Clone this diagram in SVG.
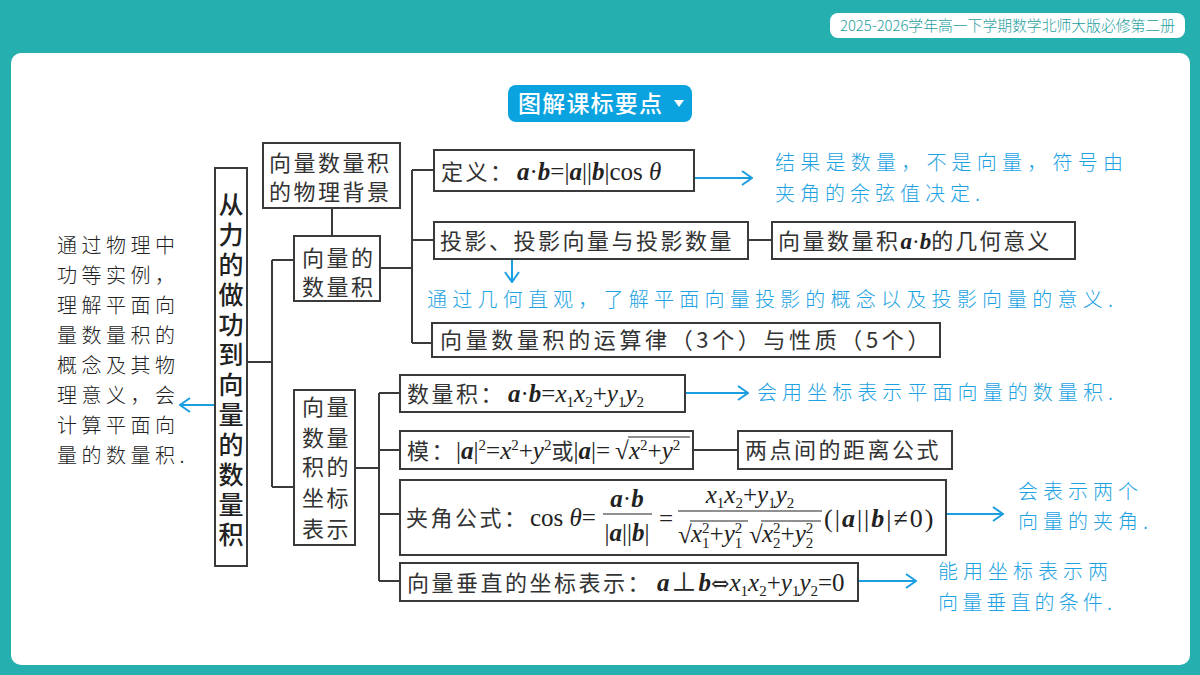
<svg xmlns="http://www.w3.org/2000/svg" width="1200" height="675" viewBox="0 0 1200 675">
<defs>
<style>
.box{fill:#fff;stroke:#3a3a3a;stroke-width:2}
.ln{fill:none;stroke:#3a3a3a;stroke-width:2}
.bl{fill:none;stroke:#1a9ee0;stroke-width:2}
.cn{font-family:"Noto Sans CJK SC","Noto Sans",sans-serif;font-size:22px;fill:#333;letter-spacing:2.5px}
.m{font-family:"Liberation Serif","Noto Sans CJK SC",serif;font-size:25px;fill:#222;letter-spacing:0}
.bi{font-weight:bold;font-style:italic}
.it{font-style:italic}
.s{font-size:15px}
.hw{font-family:"Noto Sans CJK SC",sans-serif;font-size:20px;fill:#1ca2e2;font-weight:300}
.hk{font-family:"Noto Sans CJK SC",sans-serif;font-size:20px;fill:#222;letter-spacing:4.5px;font-weight:300}
.rad{stroke:#222;stroke-width:1.2}
</style>
<marker id="ah" viewBox="0 0 12 16" markerWidth="12" markerHeight="16" refX="11" refY="8" orient="auto" markerUnits="userSpaceOnUse">
<path d="M1,1 L11,8 L1,15" fill="none" stroke="#1a9ee0" stroke-width="2"/>
</marker>
</defs>

<!-- frame -->
<rect x="0" y="0" width="1200" height="675" fill="#25afae"/>
<rect x="11" y="53" width="1179" height="612" rx="10" fill="#fff"/>
<rect x="830" y="13" width="355" height="25" rx="8" fill="#fff"/>
<text x="840" y="31" font-family="Noto Sans CJK SC,sans-serif" font-size="14.5" font-weight="300" fill="#1e9e9e" textLength="335" lengthAdjust="spacingAndGlyphs">2025-2026学年高一下学期数学北师大版必修第二册</text>

<g id="title">
<rect x="508" y="85" width="184" height="37" rx="8" fill="#0aa3e0"/>
<text x="518" y="112" font-family="Noto Sans CJK SC,sans-serif" font-size="23" font-weight="500" fill="#fff" letter-spacing="1.2">图解课标要点</text>
<polygon points="674,100 684,100 679,107" fill="#fff"/>
</g>

<!-- connectors -->
<g id="connectors">
<path class="ln" d="M247,362 H272 M272,260 V487 M272,260 H294 M272,487 H294"/>
<path class="ln" d="M332,208 V236"/>
<path class="ln" d="M380,268 H412 M412,170 V343 M412,170 H434 M412,240 H434 M412,343 H432"/>
<path class="ln" d="M748,240 H772"/>
<path class="ln" d="M355,468 H379 M379,393 V581 M379,393 H400 M379,450 H400 M379,514 H400 M379,581 H400"/>
<path class="ln" d="M693,450 H738"/>
<line class="bl" x1="214" y1="405" x2="180" y2="405" marker-end="url(#ah)"/>
<line class="bl" x1="694" y1="178" x2="752" y2="178" marker-end="url(#ah)"/>
<line class="bl" x1="512" y1="259" x2="512" y2="282" marker-end="url(#ah)"/>
<line class="bl" x1="685" y1="393" x2="748" y2="393" marker-end="url(#ah)"/>
<line class="bl" x1="946" y1="514" x2="1003" y2="514" marker-end="url(#ah)"/>
<line class="bl" x1="858" y1="581" x2="916" y2="581" marker-end="url(#ah)"/>
</g>

<g id="root">
<rect class="box" x="215" y="168" width="32" height="398"/>
<text x="231" y="192" writing-mode="vertical-rl" font-family="Noto Sans CJK SC,sans-serif" font-size="25" font-weight="500" fill="#222" letter-spacing="5">从力的做功到向量的数量积</text>
</g>

<g id="goal-left">
<text class="hk"><tspan x="57" y="253">通过物理中</tspan><tspan x="57" dy="30">功等实例，</tspan><tspan x="57" dy="30">理解平面向</tspan><tspan x="57" dy="30">量数量积的</tspan><tspan x="57" dy="30">概念及其物</tspan><tspan x="57" dy="30">理意义，会</tspan><tspan x="57" dy="30">计算平面向</tspan><tspan x="57" dy="30">量的数量积.</tspan></text>
</g>

<g id="physics">
<rect class="box" x="263" y="143" width="137" height="65"/>
<text class="cn"><tspan x="269" y="171">向量数量积</tspan><tspan x="269" y="200">的物理背景</tspan></text>
</g>

<g id="dot-product">
<rect class="box" x="294" y="236" width="86" height="65"/>
<text class="cn"><tspan x="302" y="266">向量的</tspan><tspan x="302" y="295">数量积</tspan></text>
</g>

<g id="definition">
<rect class="box" x="434" y="150" width="260" height="41"/>
<text x="441" y="180"><tspan class="cn">定义：</tspan><tspan class="m bi" x="517">a</tspan><tspan class="m">·</tspan><tspan class="m bi">b</tspan><tspan class="m">=|</tspan><tspan class="m bi">a</tspan><tspan class="m">||</tspan><tspan class="m bi">b</tspan><tspan class="m">|cos </tspan><tspan class="m it">θ</tspan></text>
</g>
<text id="note-def" class="hw"><tspan x="775" y="170" textLength="348">结果是数量，不是向量，符号由</tspan><tspan x="775" y="201" textLength="205">夹角的余弦值决定.</tspan></text>

<g id="projection">
<rect class="box" x="434" y="222" width="314" height="37"/>
<text class="cn" x="440" y="249">投影、投影向量与投影数量</text>
</g>
<g id="geometric">
<rect class="box" x="772" y="222" width="303" height="37"/>
<text x="778" y="249"><tspan class="cn">向量数量积</tspan><tspan class="m bi" style="font-size:23px">a</tspan><tspan class="m" style="font-size:23px">·</tspan><tspan class="m bi" style="font-size:23px">b</tspan><tspan class="cn" style="letter-spacing:2px">的几何意义</tspan></text>
</g>
<text id="note-proj" class="hw" x="427" y="307" textLength="686">通过几何直观，了解平面向量投影的概念以及投影向量的意义.</text>

<g id="laws">
<rect class="box" x="432" y="323" width="508" height="34"/>
<text class="cn" x="440" y="348" textLength="492">向量数量积的运算律（3个）与性质（5个）</text>
</g>

<g id="coord">
<rect class="box" x="294" y="390" width="61" height="155"/>
<text class="cn"><tspan x="302" y="415">向量</tspan><tspan x="302" y="446">数量</tspan><tspan x="302" y="475">积的</tspan><tspan x="302" y="506">坐标</tspan><tspan x="302" y="537">表示</tspan></text>
</g>

<g id="coord-dot">
<rect class="box" x="400" y="375" width="285" height="37"/>
<text x="407" y="402"><tspan class="cn">数量积：</tspan><tspan class="m bi" x="508">a</tspan><tspan class="m">·</tspan><tspan class="m bi">b</tspan><tspan class="m">=</tspan><tspan class="m it">x</tspan><tspan class="m s" dy="5">1</tspan><tspan class="m it" dy="-5">x</tspan><tspan class="m s" dy="5">2</tspan><tspan class="m" dy="-5">+</tspan><tspan class="m it">y</tspan><tspan class="m s" dy="5">1</tspan><tspan class="m it" dy="-5">y</tspan><tspan class="m s" dy="5">2</tspan></text>
</g>
<text id="note-dot" class="hw" x="757" y="400" textLength="356">会用坐标表示平面向量的数量积.</text>

<g id="modulus">
<rect class="box" x="400" y="431" width="293" height="38"/>
<text x="407" y="459"><tspan class="cn">模：</tspan><tspan class="m" x="456">|</tspan><tspan class="m bi">a</tspan><tspan class="m">|</tspan><tspan class="m s" dy="-9">2</tspan><tspan class="m" dy="9">=</tspan><tspan class="m it">x</tspan><tspan class="m s" dy="-9">2</tspan><tspan class="m" dy="9">+</tspan><tspan class="m it">y</tspan><tspan class="m s" dy="-9">2</tspan><tspan class="cn" dy="9" style="letter-spacing:0">或</tspan><tspan class="m">|</tspan><tspan class="m bi">a</tspan><tspan class="m">|=</tspan><tspan class="m" x="615">√</tspan><tspan class="m it" x="629">x</tspan><tspan class="m s" dy="-9">2</tspan><tspan class="m" dy="9">+</tspan><tspan class="m it">y</tspan><tspan class="m s" dy="-9">2</tspan></text>
<line class="rad" x1="628" y1="437" x2="690" y2="437"/>
</g>
<g id="distance">
<rect class="box" x="738" y="431" width="214" height="38"/>
<text class="cn" x="745" y="458">两点间的距离公式</text>
</g>

<g id="angle">
<rect class="box" x="400" y="480" width="546" height="75"/>
<text class="cn" x="406" y="526">夹角公式：</text>
<text class="m" x="530" y="526">cos <tspan class="it">θ</tspan>=</text>
<text class="m" x="627" y="507" text-anchor="middle"><tspan class="bi">a</tspan>·<tspan class="bi">b</tspan></text>
<line class="rad" x1="603" y1="514" x2="652" y2="514" stroke-width="1.4"/>
<text class="m" x="627" y="541" text-anchor="middle">|<tspan class="bi">a</tspan>||<tspan class="bi">b</tspan>|</text>
<text class="m" x="659" y="527">=</text>
<text class="m" x="750" y="503" text-anchor="middle"><tspan class="it">x</tspan><tspan class="s" dy="5">1</tspan><tspan class="it" dy="-5">x</tspan><tspan class="s" dy="5">2</tspan><tspan dy="-5">+</tspan><tspan class="it">y</tspan><tspan class="s" dy="5">1</tspan><tspan class="it" dy="-5">y</tspan><tspan class="s" dy="5">2</tspan></text>
<line class="rad" x1="678" y1="511" x2="822" y2="511" stroke-width="1.4"/>
<text class="m" x="678" y="543">√</text>
<text class="m" x="691" y="542"><tspan class="it">x</tspan><tspan class="s" dy="-9">2</tspan><tspan class="s" dx="-7.5" dy="15">1</tspan><tspan dy="-6">+</tspan><tspan class="it">y</tspan><tspan class="s" dy="-9">2</tspan><tspan class="s" dx="-7.5" dy="15">1</tspan></text>
<text class="m" x="749" y="543">√</text>
<text class="m" x="762" y="542"><tspan class="it">x</tspan><tspan class="s" dy="-9">2</tspan><tspan class="s" dx="-7.5" dy="15">2</tspan><tspan dy="-6">+</tspan><tspan class="it">y</tspan><tspan class="s" dy="-9">2</tspan><tspan class="s" dx="-7.5" dy="15">2</tspan></text>
<line class="rad" x1="690" y1="521" x2="748" y2="521"/>
<line class="rad" x1="761" y1="521" x2="821" y2="521"/>
<text class="m" x="824" y="527" style="font-size:26px;letter-spacing:2px">(|<tspan class="bi">a</tspan>||<tspan class="bi">b</tspan>|≠0)</text>
</g>
<text id="note-angle" class="hw"><tspan x="1018" y="499" textLength="120">会表示两个</tspan><tspan x="1018" y="529" textLength="130">向量的夹角.</tspan></text>

<g id="perp">
<rect class="box" x="400" y="563" width="458" height="38"/>
<text x="407" y="591"><tspan class="cn">向量垂直的坐标表示：</tspan><tspan class="m bi" x="657">a</tspan><tspan class="m" dx="2">⊥</tspan><tspan class="m bi" dx="2">b</tspan><tspan class="m" style="font-family:'DejaVu Serif',serif;font-size:22px">⇔</tspan><tspan class="m it">x</tspan><tspan class="m s" dy="5">1</tspan><tspan class="m it" dy="-5">x</tspan><tspan class="m s" dy="5">2</tspan><tspan class="m" dy="-5">+</tspan><tspan class="m it">y</tspan><tspan class="m s" dy="5">1</tspan><tspan class="m it" dy="-5">y</tspan><tspan class="m s" dy="5">2</tspan><tspan class="m" dy="-5">=0</tspan></text>
</g>
<text id="note-perp" class="hw"><tspan x="938" y="579" textLength="170">能用坐标表示两</tspan><tspan x="938" y="610" textLength="174">向量垂直的条件.</tspan></text>
</svg>
